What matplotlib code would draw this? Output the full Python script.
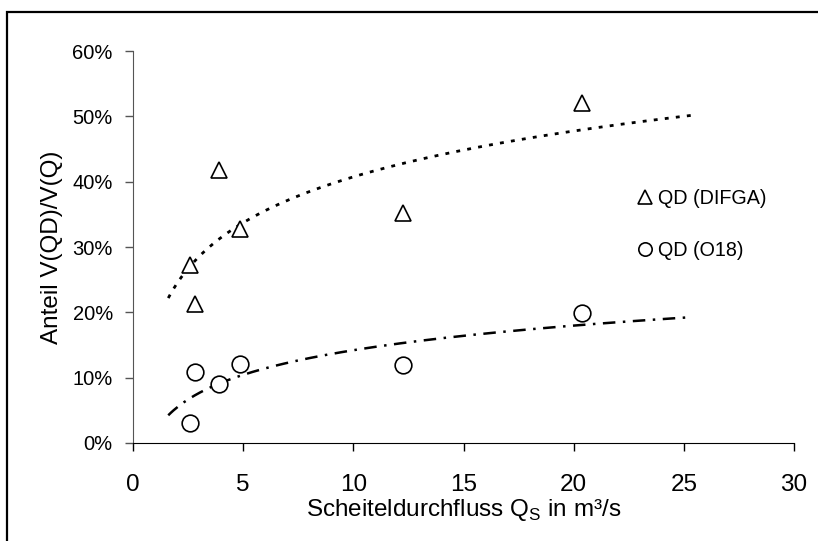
import numpy as np
import matplotlib
matplotlib.use("Agg")
import matplotlib.pyplot as plt
from matplotlib.patches import Rectangle
from matplotlib.ticker import PercentFormatter

plt.rcParams['font.family'] = ['Liberation Sans', 'DejaVu Sans']

# data
qs = [2.6, 2.8, 3.9, 4.85, 12.25, 20.4]            # Scheiteldurchfluss m3/s
qd_difga = [27.3, 21.2, 41.8, 32.8, 35.2, 52.0]     # %
qd_o18 = [3.0, 10.9, 9.0, 12.1, 12.0, 19.9]         # %
x_ticks = [0, 5, 10, 15, 20, 25, 30]
y_ticks = [0, 10, 20, 30, 40, 50, 60]

W, H = 818, 541
fig = plt.figure(figsize=(W / 100, H / 100), dpi=100)
ax = fig.add_axes([133 / W, 1 - 443 / H, (794 - 133) / W, (443 - 51) / H])

# outer frame
fig.patches.append(Rectangle((7 / W, -0.05), 1.2, 1 - 12.5 / H + 0.05,
                             transform=fig.transFigure, fill=False,
                             edgecolor='black', linewidth=1.6))


def log_trend(x, y, x0, x1):
    lx = np.log(np.asarray(x))
    b, a = np.polyfit(lx, np.asarray(y), 1)
    xs = np.linspace(x0, x1, 200)
    return xs, a + b * np.log(xs)

x_lo = min(qs) - 1.0
x_hi = max(qs) + 5.0
tx, ty = log_trend(qs, qd_difga, x_lo, x_hi)
cx, cy = log_trend(qs, qd_o18, x_lo, x_hi)

ax.plot(tx, ty, color='black', lw=2.0, linestyle=(0, (1.4, 2.6)))
ax.plot(cx, cy, color='black', lw=1.8, linestyle=(0, (5, 3, 1, 3)))

ax.plot(qs, qd_difga, linestyle='none', marker='^', ms=12, mfc='white',
        mec='black', mew=1.2, label='QD (DIFGA)')
ax.plot(qs, qd_o18, linestyle='none', marker='o', ms=12, mfc='white',
        mec='black', mew=1.2, label='QD (O18)')

ax.set_xlim(0, 30)
ax.set_ylim(0, 60)
ax.set_xticks(x_ticks)
ax.set_yticks(y_ticks)
ax.yaxis.set_major_formatter(PercentFormatter(decimals=0))

for s in ['top', 'right']:
    ax.spines[s].set_visible(False)
ax.spines['left'].set_color('#555555')
ax.spines['bottom'].set_color('black')

ax.tick_params(axis='x', direction='out', length=6, width=1, pad=16,
               labelsize=17.5)
ax.tick_params(axis='y', direction='out', length=6, width=1, pad=8.5,
               labelsize=14.5, color='#555555')

ax.set_xlabel('Scheiteldurchfluss Q$_\\mathregular{S}$ in m³/s', fontsize=17.5,
              labelpad=1)
ax.set_ylabel('Anteil V(QD)/V(Q)', fontsize=17.5, labelpad=7)

leg = ax.legend(loc='upper left', bbox_to_anchor=(0.752, 0.668),
                frameon=False, fontsize=14.2, handlelength=0.7,
                handletextpad=0.3, labelspacing=1.65, markerscale=0.8,
                borderaxespad=0)

fig.savefig('out.png', dpi=100)
